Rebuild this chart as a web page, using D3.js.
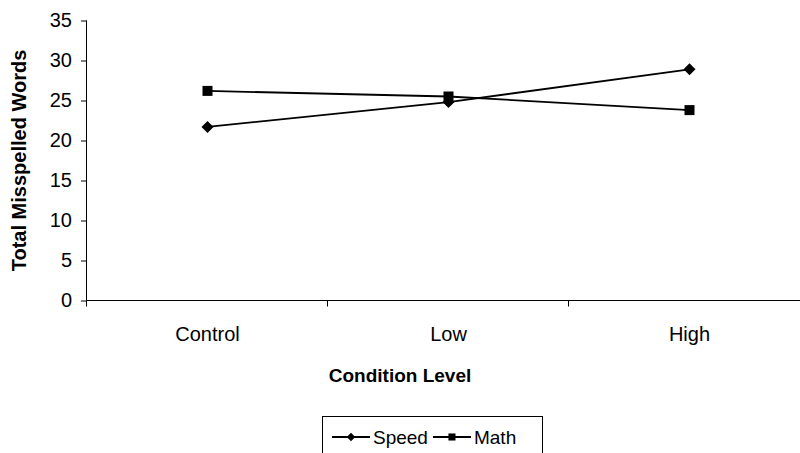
<!DOCTYPE html>
<html>
<head>
<meta charset="utf-8">
<script src="https://cdn.jsdelivr.net/npm/d3@7"></script>
<style>
  html, body { margin: 0; padding: 0; background: #fff; }
  svg { display: block; font-family: "Liberation Sans", Arial, sans-serif; }
</style>
</head>
<body>
<svg id="chart" width="800" height="453"></svg>
<script>
// Condition levels along the x axis
const categories = ["Control", "Low", "High"];
// Total misspelled words per condition
const speedValues = [21.7, 24.8, 28.9];
const mathValues = [26.2, 25.5, 23.8];
// Y axis tick values
const yTicks = [0, 5, 10, 15, 20, 25, 30, 35];
const seriesNames = ["Speed", "Math"];

// Diamonds are squares turned by 45 degrees
const series = [
  { name: seriesNames[0], values: speedValues, size: 72, legendSize: 36, angle: 45 },
  { name: seriesNames[1], values: mathValues, size: 100, legendSize: 50, angle: 0 }
];

const svg = d3.select("#chart");
const plot = { left: 87, top: 20.5, bottom: 300.5, right: 810 };

const x = d3.scaleBand().domain(categories).range([plot.left, plot.right]);
const y = d3.scaleLinear().domain([0, 35]).range([plot.bottom, plot.top]);
const cx = d => x(d) + x.bandwidth() / 2;

// Y axis
const yAxis = svg.append("g")
  .attr("transform", `translate(${plot.left},0)`)
  .call(d3.axisLeft(y).tickValues(yTicks).tickSize(6).tickPadding(9));
yAxis.select(".domain").attr("stroke", "#000").attr("d", `M-0.5,${plot.top}V${plot.bottom}`);
yAxis.selectAll(".tick line").attr("stroke", "#000");
yAxis.selectAll(".tick text").attr("font-size", 20).attr("fill", "#000")
  .attr("font-family", "Liberation Sans, Arial, sans-serif");

// X axis with ticks on category boundaries
const xAxis = svg.append("g")
  .attr("transform", `translate(0,${plot.bottom})`);
xAxis.append("line")
  .attr("x1", plot.left - 0.5).attr("x2", plot.right)
  .attr("stroke", "#000");
xAxis.selectAll(".bound")
  .data(categories)
  .join("line")
  .attr("class", "bound")
  .attr("x1", d => Math.round(x(d)) - 0.5)
  .attr("x2", d => Math.round(x(d)) - 0.5)
  .attr("y1", 0).attr("y2", 6)
  .attr("stroke", "#000");
xAxis.selectAll(".cat")
  .data(categories)
  .join("text")
  .attr("class", "cat")
  .attr("x", d => cx(d))
  .attr("y", 40)
  .attr("text-anchor", "middle")
  .attr("font-size", 20)
  .text(d => d);

// Axis titles
svg.append("text")
  .attr("x", 400).attr("y", 382)
  .attr("text-anchor", "middle")
  .attr("font-size", 19).attr("font-weight", "bold")
  .text("Condition Level");
svg.append("text")
  .attr("transform", `translate(26,${(plot.top + plot.bottom) / 2}) rotate(-90)`)
  .attr("text-anchor", "middle")
  .attr("font-size", 20).attr("font-weight", "bold")
  .text("Total Misspelled Words");

// Series lines and markers
const line = d3.line()
  .x((d, i) => cx(categories[i]))
  .y(d => y(d));

series.forEach(s => {
  svg.append("path")
    .datum(s.values)
    .attr("fill", "none")
    .attr("stroke", "#000")
    .attr("stroke-width", 1.8)
    .attr("d", line);
  svg.selectAll(null)
    .data(s.values)
    .join("path")
    .attr("transform", (d, i) => `translate(${cx(categories[i])},${y(d)}) rotate(${s.angle})`)
    .attr("d", d3.symbol().type(d3.symbolSquare).size(s.size))
    .attr("fill", "#000");
});

// Legend
const legend = svg.append("g");
legend.append("rect")
  .attr("x", 322.5).attr("y", 416.5)
  .attr("width", 220).attr("height", 50)
  .attr("fill", "#fff").attr("stroke", "#000");
let lx = 332;
series.forEach(s => {
  const g = legend.append("g").attr("transform", `translate(${lx},437)`);
  g.append("line").attr("x1", 0).attr("x2", 38).attr("stroke", "#000").attr("stroke-width", 1.8);
  g.append("path")
    .attr("transform", `translate(19,0) rotate(${s.angle})`)
    .attr("d", d3.symbol().type(d3.symbolSquare).size(s.legendSize))
    .attr("fill", "#000");
  const t = g.append("text")
    .attr("x", 41).attr("y", 7)
    .attr("font-size", 19)
    .text(s.name);
  lx += 41 + t.node().getComputedTextLength() + 5;
});
</script>
</body>
</html>
